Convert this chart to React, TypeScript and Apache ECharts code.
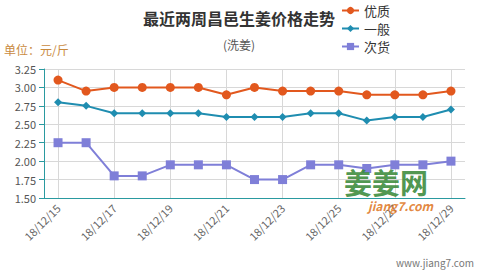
import React, { useEffect, useRef } from "react";
import * as echarts from "echarts";

const categories = [
  "18/12/15", "18/12/16", "18/12/17", "18/12/18", "18/12/19",
  "18/12/20", "18/12/21", "18/12/22", "18/12/23", "18/12/24",
  "18/12/25", "18/12/26", "18/12/27", "18/12/28", "18/12/29",
];
const premium = [3.1, 2.95, 3.0, 3.0, 3.0, 3.0, 2.9, 3.0, 2.95, 2.95, 2.95, 2.9, 2.9, 2.9, 2.95];
const ordinary = [2.8, 2.75, 2.65, 2.65, 2.65, 2.65, 2.6, 2.6, 2.6, 2.65, 2.65, 2.55, 2.6, 2.6, 2.7];
const inferior = [2.25, 2.25, 1.8, 1.8, 1.95, 1.95, 1.95, 1.75, 1.75, 1.95, 1.95, 1.9, 1.95, 1.95, 2.0];
const seriesNames = ["优质", "一般", "次货"];

const FONT = "'Noto Sans CJK SC', 'Noto Sans', sans-serif";

export default function App() {
  const ref = useRef<HTMLDivElement>(null);
  useEffect(() => {
    if (!ref.current) return;
    const chart = echarts.init(ref.current, null, { renderer: "svg" });
    const mk = (name: string, data: number[], color: string, symbol: string, size: number) => ({
      name,
      type: "line",
      data,
      symbol,
      symbolSize: size,
      itemStyle: { color },
      lineStyle: { color, width: 2 },
    });
    chart.setOption({
      animation: false,
      textStyle: { fontFamily: FONT },
      title: {
        text: "最近两周昌邑生姜价格走势",
        subtext: "(洗姜)",
        left: 234,
        textAlign: "center",
        top: 5,
        itemGap: 12,
        textStyle: { fontSize: 16, fontWeight: "bold", color: "#333", fontFamily: FONT },
        subtextStyle: { fontSize: 12, color: "#555", fontFamily: FONT },
      },
      legend: {
        orient: "vertical",
        left: 341,
        top: 4,
        itemWidth: 17,
        itemHeight: 9,
        itemGap: 5,
        padding: 0,
        textStyle: { fontSize: 13, color: "#333", fontFamily: FONT },
        data: seriesNames,
      },
      grid: { left: 44, right: 17, top: 69, bottom: 74, containLabel: false },
      xAxis: {
        type: "category",
        data: categories,
        boundaryGap: true,
        axisLine: { lineStyle: { color: "#2a9aa0", width: 1 } },
        axisTick: { alignWithLabel: true, interval: 1, length: 5, lineStyle: { color: "#2a9aa0" } },
        splitLine: { show: true, interval: 1, alignWithLabel: true, lineStyle: { color: "#d8d8d8" } },
        axisLabel: { interval: 1, rotate: 45, fontSize: 11, color: "#666", margin: 8, fontFamily: FONT },
      },
      yAxis: {
        type: "value",
        min: 1.5,
        max: 3.25,
        interval: 0.25,
        axisLine: { show: true, lineStyle: { color: "#2a9aa0" } },
        axisTick: { show: true, length: 5, lineStyle: { color: "#2a9aa0" } },
        splitLine: { lineStyle: { color: "#d8d8d8" } },
        axisLabel: {
          fontSize: 11,
          color: "#555",
          margin: 8,
          fontFamily: FONT,
          formatter: (v: number) => v.toFixed(2),
        },
      },
      graphic: [
        {
          type: "text",
          x: 4,
          y: 43,
          style: { text: "单位：元/斤", font: `12px ${FONT}`, fill: "#c98a3e", textAlign: "left", textVerticalAlign: "top" },
        },
        {
          type: "text",
          x: 344,
          y: 168,
          z: 100,
          style: { text: "姜姜网", font: `bold 28px ${FONT}`, lineHeight: 28, fill: "#3a8a3a", opacity: 0.9, textAlign: "left", textVerticalAlign: "top" },
        },
        {
          type: "text",
          x: 368,
          y: 199,
          z: 100,
          style: { text: "jiang7.com", font: `italic bold 12px ${FONT}`, lineHeight: 12, fill: "#e07a2a", opacity: 0.9, textAlign: "left", textVerticalAlign: "top" },
        },
        {
          type: "text",
          x: 474,
          y: 257,
          style: { text: "www.jiang7.com", font: `10px ${FONT}`, fill: "#777", textAlign: "right", textVerticalAlign: "top" },
        },
      ],
      series: [
        mk(seriesNames[0], premium, "#e2581e", "circle", 9),
        mk(seriesNames[1], ordinary, "#1f8db0", "diamond", 8),
        mk(seriesNames[2], inferior, "#7f7fd8", "rect", 9),
      ],
    });
    return () => chart.dispose();
  }, []);
  return <div ref={ref} style={{ position: "absolute", left: 0, top: 0, width: 482, height: 272 }} />;
}
